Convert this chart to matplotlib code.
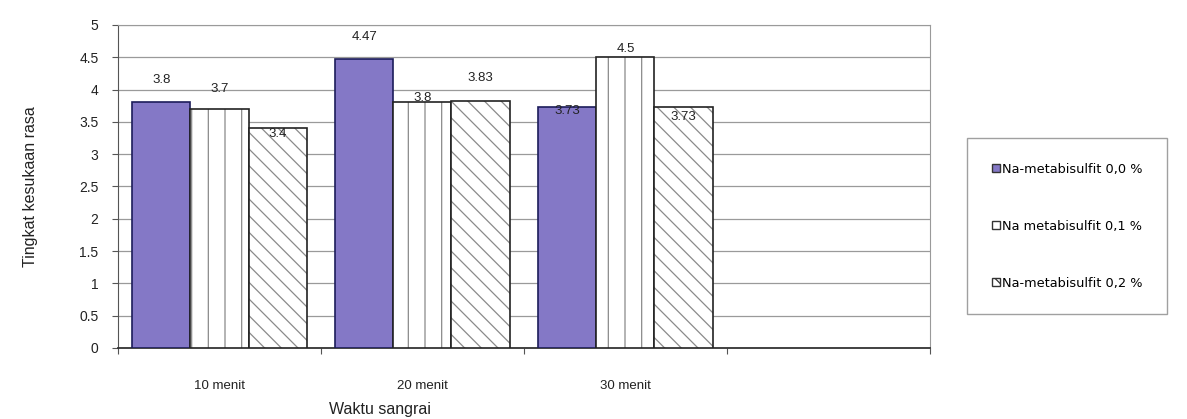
import numpy as np
import matplotlib
matplotlib.use("Agg")
import matplotlib.pyplot as plt
from matplotlib.patches import Patch

categories = ["10 menit", "20 menit", "30 menit", ""]
series_names = ["Na-metabisulfit 0,0 %", "Na metabisulfit 0,1 %", "Na-metabisulfit 0,2 %"]
s0 = [3.8, 4.47, 3.73]
s1 = [3.7, 3.8, 4.5]
s2 = [3.4, 3.83, 3.73]
series = [s0, s1, s2]
# label offsets (points) as placed in the original chart
label_dy = [[16, 16, -3], [14, 3, 6], [-4, 16, -7]]

plt.rcParams['font.family'] = ['Liberation Sans', 'DejaVu Sans']
plt.rcParams['hatch.linewidth'] = 0.9

fig = plt.figure(figsize=(11.87, 4.19), dpi=100)
ax = fig.add_axes([0.0994, 0.1695, 0.684, 0.771])

faces = ["#8478c6", "white", "white"]
hatches = [None, "|", "\\\\"]
edges = ["#1c1c5a", "#222222", "#222222"]
w = 0.286
x = np.arange(3) + 0.5
for i, vals in enumerate(series):
    xs = x + (i - 1) * w
    bars = ax.bar(xs, vals, w, color=faces[i], edgecolor=edges[i], linewidth=1.2,
                  hatch=hatches[i], zorder=3, label=series_names[i])
    for b in bars:
        b._hatch_color = matplotlib.colors.to_rgba("#8a8a8a")
    for j, (xx, v) in enumerate(zip(xs, vals)):
        ax.annotate(f"{v:g}", (xx, v), xytext=(0, label_dy[i][j]), textcoords="offset points",
                    ha="center", va="center", fontsize=9.5, color="#222222", zorder=5)

ax.set_xlim(0, 4)
ax.set_ylim(0, 5)
ax.set_yticks(np.arange(0, 5.01, 0.5))
ax.set_yticklabels([f"{t:g}" for t in np.arange(0, 5.01, 0.5)], fontsize=10, color="#222222")
ax.set_xticks(np.arange(0, 5))
ax.set_xticklabels([])
ax.set_xticks(x, minor=True)
ax.set_xticklabels(categories[:3], minor=True, fontsize=9.5, color="#222222")
ax.tick_params(axis="x", which="minor", length=0, pad=23)
ax.tick_params(axis="x", which="major", length=4, direction="out", color="#555555")
ax.tick_params(axis="y", length=4, direction="out", color="#555555", pad=10)
ax.grid(axis="y", color="#9a9a9a", linewidth=0.9, zorder=0)
for s in ["top", "right"]:
    ax.spines[s].set_color("#9a9a9a")
ax.spines["left"].set_color("#555555")
ax.spines["bottom"].set_color("#333333")
ax.spines["bottom"].set_linewidth(1.3)

ax.set_ylabel("Tingkat kesukaan rasa", fontsize=11.5, color="#222222", labelpad=30)
fig.text(0.32, 0.004, "Waktu sangrai", fontsize=11.5, color="#222222", ha="center", va="bottom")

handles = [Patch(facecolor=faces[i], edgecolor="#333333", hatch=hatches[i]) for i in range(3)]
leg = fig.legend(handles, series_names, loc="upper left", bbox_to_anchor=(0.815, 0.67),
                 prop={"family": "DejaVu Sans", "size": 9.3}, frameon=True, fancybox=False,
                 edgecolor="#888888", labelspacing=3.4, handlelength=0.6, handleheight=0.6,
                 handletextpad=0.2, borderpad=1.9, borderaxespad=0)
leg.get_frame().set_linewidth(1.0)

fig.savefig("out.png", dpi=100, facecolor="white")
